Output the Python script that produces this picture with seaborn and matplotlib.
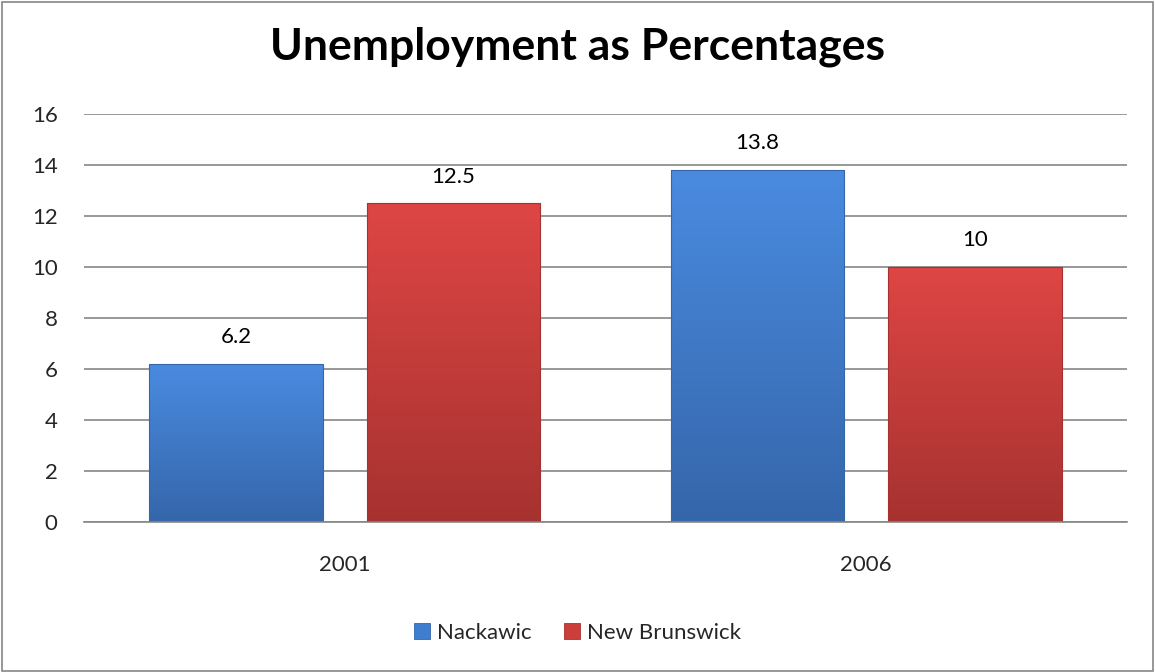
import matplotlib
matplotlib.use("Agg")
import matplotlib.pyplot as plt
import seaborn as sns
import pandas as pd
import numpy as np
from matplotlib.patches import Rectangle
from matplotlib.colors import LinearSegmentedColormap

years = ["2001", "2006"]
series = ["Nackawic", "New Brunswick"]
nackawic = [6.2, 13.8]
new_brunswick = [12.5, 10]
yticks = [0, 2, 4, 6, 8, 10, 12, 14, 16]

df = pd.DataFrame({
    "Year": years * 2,
    "Region": [series[0]] * 2 + [series[1]] * 2,
    "Value": nackawic + new_brunswick,
})

sns.set_theme(style="white")
plt.rcParams["font.family"] = ["Lato", "DejaVu Sans"]

fig = plt.figure(figsize=(11.55, 6.72), dpi=100)
ax = fig.add_axes([84 / 1155, 150 / 672, (1127 - 84) / 1155, (522 - 114) / 672])

colors = {"Nackawic": "#3f7ecf", "New Brunswick": "#cc3e3c"}
grads = {"Nackawic": ("#4a8be0", "#3566aa"), "New Brunswick": ("#de4644", "#a63230")}
sns.barplot(data=df, x="Year", y="Value", hue="Region", palette=colors, saturation=1,
            width=0.834, gap=0.204, ax=ax, edgecolor="none", legend=False)

ax.set_ylim(0, 16)
ax.set_xlim(-0.5, 1.5)

for cont, s in zip(ax.containers, series):
    cmap = LinearSegmentedColormap.from_list(s, [grads[s][1], grads[s][0]])
    for b in cont:
        x0, y0 = b.get_x(), b.get_y()
        w, h = b.get_width(), b.get_height()
        grad = np.linspace(0, 1, 256).reshape(-1, 1)
        im = ax.imshow(grad, extent=[x0, x0 + w, y0, y0 + h], origin="lower",
                       cmap=cmap, aspect="auto", zorder=b.get_zorder() + 0.1)
        im.set_clip_path(b)
        edge = Rectangle((x0, y0), w, h, fill=False, edgecolor=grads[s][1],
                         linewidth=0.8, zorder=b.get_zorder() + 0.2)
        ax.add_patch(edge)
    labels = [("%g" % b.get_height()) for b in cont]
    ax.bar_label(cont, labels=labels, padding=12, fontsize=16, color="#000000")

ax.set_xlim(-0.5, 1.5)
ax.set_ylim(0, 16)
ax.set_yticks(yticks)
ax.set_yticklabels([str(t) for t in yticks], fontsize=16)
ax.tick_params(axis="x", labelsize=16, pad=24, length=0)
ax.tick_params(axis="y", length=0, pad=19)
ax.set_xlabel("")
ax.set_ylabel("")
ax.yaxis.grid(True, color="#868686", linewidth=1.2)
ax.set_axisbelow(True)
for sp in ["top", "right", "left"]:
    ax.spines[sp].set_visible(False)
ax.spines["bottom"].set_color("#868686")
ax.spines["bottom"].set_linewidth(1.2)

fig.text(0.5, 1 - 47 / 672, "Unemployment as Percentages", ha="center", va="center",
         fontsize=32, fontweight="bold", color="#000000")

handles = [Rectangle((0, 0), 1, 1, facecolor=colors[s], edgecolor=grads[s][1], linewidth=0.6)
           for s in series]
fig.legend(handles, series, loc="center", bbox_to_anchor=(0.5, 1 - 633 / 672), ncol=2,
           frameon=False, fontsize=16, handlelength=0.7, handleheight=0.7,
           handletextpad=0.3, columnspacing=1.5)

border = Rectangle((0.002, 0.002), 0.996, 0.995, transform=fig.transFigure,
                   fill=False, edgecolor="#868686", linewidth=1.2)
fig.patches.append(border)

fig.savefig("out.png", dpi=100, facecolor="white")
